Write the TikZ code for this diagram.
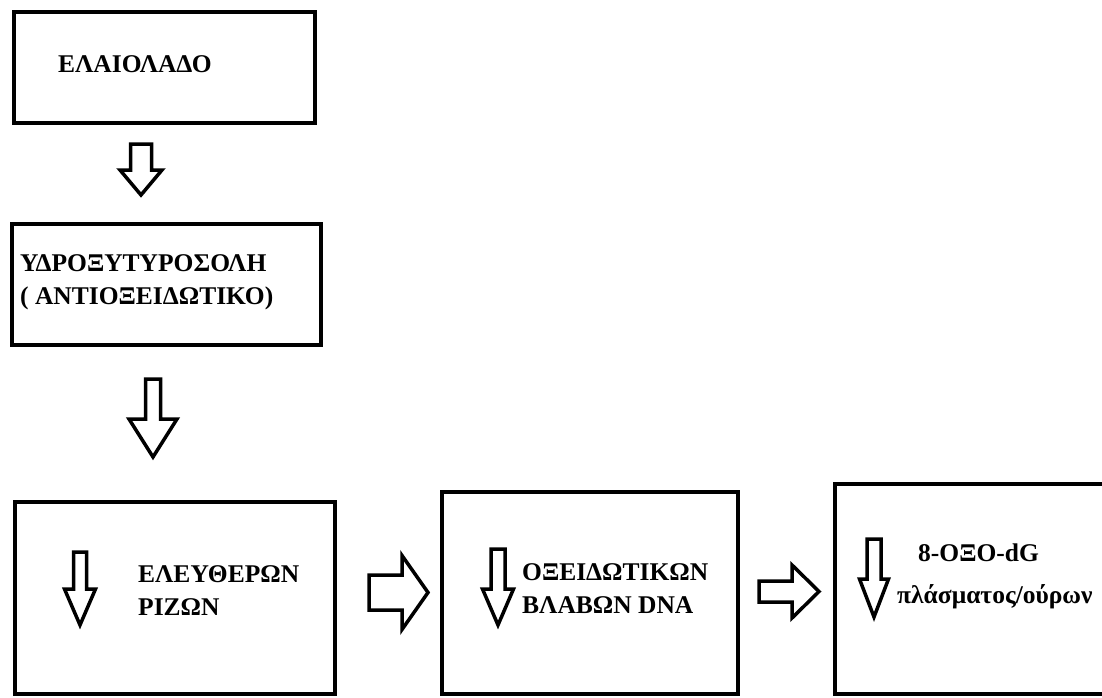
\documentclass[tikz,border=0pt]{standalone}
\usepackage{fontspec}
\setmainfont{Liberation Serif}
\usetikzlibrary{positioning}

\begin{document}
\begin{tikzpicture}[
  x=1pt, y=-1pt,
  box/.style={draw, line width=4pt, inner sep=0pt},
  lbl/.style={anchor=west, inner sep=0pt, align=left, font=\fontsize{25.5}{33}\selectfont\bfseries},
  blk/.style={draw, line width=3.5pt, line join=miter},
  pics/downarr/.style n args={4}{code={
    \draw[blk] (-#1,0) -- (#1,0) -- (#1,#3) -- (#2,#3) -- (0,#3+#4) -- (-#2,#3) -- (-#1,#3) -- cycle;
  }},
  pics/rightarr/.style n args={4}{code={
    \draw[blk] (0,-#1) -- (#3,-#1) -- (#3,-#2) -- (#3+#4,0) -- (#3,#2) -- (#3,#1) -- (0,#1) -- cycle;
  }}
]
\useasboundingbox (0,0) rectangle (1102,698);
\clip (0,0) rectangle (1102,698);

% column of boxes
\node[box, minimum width=301pt, minimum height=111pt] (oil) at (164.5,67.5) {};
\node[box, minimum width=309pt, minimum height=121pt] (hyt) at (166.5,284.5) {};
\node[lbl] (oiltxt) at (58,64) {ΕΛΑΙΟΛΑΔΟ};
\node[lbl] (hyttxt) at (20,282) {ΥΔΡΟΞΥΤΥΡΟΣΟΛΗ\\( ΑΝΤΙΟΞΕΙΔΩΤΙΚΟ)};

\pic (a1) at (141,144) {downarr={10.5}{21}{26}{25}};
\pic (a2) at (153,379) {downarr={7.5}{24}{40}{38}};

% bottom row
\node[box, minimum width=320pt, minimum height=192pt] (rad) at (175,598) {};
\node[box, minimum width=296pt, minimum height=202pt] (dna) at (590,593) {};
\node[box, minimum width=305pt, minimum height=210pt] (oxo) at (987.5,589) {};

\node[lbl] (radtxt) at (138,591) {ΕΛΕΥΘΕΡΩΝ\\ΡΙΖΩΝ};
\node[lbl] (dnatxt) at (522,589) {ΟΞΕΙΔΩΤΙΚΩΝ\\ΒΛΑΒΩΝ DNA};
\node[lbl] (oxotxt) at (918,553) {8-ΟΞΟ-dG};
\node[lbl] (urntxt) at (897,597) {πλάσματος/ούρων};

\pic (s1) at (80,552) {downarr={6.5}{15.5}{37}{36}};
\pic (s2) at (498,549) {downarr={7}{15.5}{40}{36}};
\pic (s3) at (874,539) {downarr={7}{14.5}{40}{38}};

\pic (r1) at (369,592.5) {rightarr={17.5}{37}{33}{26}};
\pic (r2) at (759,591.5) {rightarr={10.5}{26.5}{33}{27}};

\end{tikzpicture}
\end{document}
